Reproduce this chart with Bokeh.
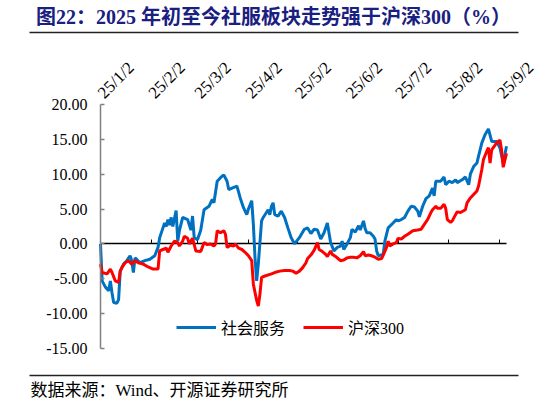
import pandas as pd
from math import pi
from bokeh.plotting import figure
from bokeh.models import Range1d, FixedTicker, NumeralTickFormatter, LinearAxis, Label
from bokeh.embed import file_html
from bokeh.resources import INLINE

TITLE = "图22：2025 年初至今社服板块走势强于沪深300（%）"
SOURCE = "数据来源：Wind、开源证券研究所"
SERIES_NAMES = ["社会服务", "沪深300"]

tick_dates = ["2025-01-02", "2025-02-02", "2025-03-02", "2025-04-02", "2025-05-02",
              "2025-06-02", "2025-07-02", "2025-08-02", "2025-09-02"]
tick_labels = ["25/1/2", "25/2/2", "25/3/2", "25/4/2", "25/5/2",
               "25/6/2", "25/7/2", "25/8/2", "25/9/2"]
y_ticks = [-15, -10, -5, 0, 5, 10, 15, 20]
y_min, y_max = -15, 20
x_start, x_end = "2025-01-02", "2025-09-06"

blue_dates = [
    "2025-01-02", "2025-01-03", "2025-01-05", "2025-01-07", "2025-01-08", "2025-01-09", "2025-01-10",
    "2025-01-12", "2025-01-13", "2025-01-14", "2025-01-16", "2025-01-18", "2025-01-20", "2025-01-21",
    "2025-01-22", "2025-01-23", "2025-01-24", "2025-01-26", "2025-01-29",
    "2025-02-01", "2025-02-04", "2025-02-06", "2025-02-07", "2025-02-09", "2025-02-10", "2025-02-11",
    "2025-02-12", "2025-02-13", "2025-02-14", "2025-02-15", "2025-02-17", "2025-02-18", "2025-02-19",
    "2025-02-21", "2025-02-24", "2025-02-26", "2025-02-27", "2025-02-28",
    "2025-03-02", "2025-03-04", "2025-03-06", "2025-03-09", "2025-03-11", "2025-03-12", "2025-03-14",
    "2025-03-16", "2025-03-18", "2025-03-20", "2025-03-21", "2025-03-23", "2025-03-26", "2025-03-28",
    "2025-03-30",
    "2025-04-01", "2025-04-02", "2025-04-04", "2025-04-05", "2025-04-06", "2025-04-07", "2025-04-08",
    "2025-04-10", "2025-04-11", "2025-04-14", "2025-04-15", "2025-04-16", "2025-04-17", "2025-04-18",
    "2025-04-20", "2025-04-22", "2025-04-24", "2025-04-26", "2025-04-28", "2025-04-30",
    "2025-05-03", "2025-05-06", "2025-05-08", "2025-05-10", "2025-05-12", "2025-05-14", "2025-05-16",
    "2025-05-18", "2025-05-20", "2025-05-22", "2025-05-24", "2025-05-26", "2025-05-28", "2025-05-29",
    "2025-05-30",
    "2025-06-01", "2025-06-03", "2025-06-04", "2025-06-06", "2025-06-08", "2025-06-09", "2025-06-11",
    "2025-06-12", "2025-06-13", "2025-06-15", "2025-06-17", "2025-06-18", "2025-06-19", "2025-06-20",
    "2025-06-23", "2025-06-24", "2025-06-26", "2025-06-29",
    "2025-07-01", "2025-07-02", "2025-07-04", "2025-07-06", "2025-07-08", "2025-07-10", "2025-07-12",
    "2025-07-14", "2025-07-15", "2025-07-17", "2025-07-19", "2025-07-21", "2025-07-23", "2025-07-24",
    "2025-07-25", "2025-07-28", "2025-07-30", "2025-07-31",
    "2025-08-02", "2025-08-04", "2025-08-06", "2025-08-07", "2025-08-10", "2025-08-12", "2025-08-14",
    "2025-08-15", "2025-08-17", "2025-08-19", "2025-08-20", "2025-08-22", "2025-08-24", "2025-08-26",
    "2025-08-28", "2025-08-31",
    "2025-09-02", "2025-09-04", "2025-09-06",
]
blue_values = [
    0.0, -5.3, -6.2, -6.7, -5.3, -7.0, -8.4, -8.5, -8.0, -3.9, -2.9, -2.4, -1.7, -2.4, -4.1, -2.0, -2.2, -2.7, -2.4,
    -2.2, -1.7, -0.5, 0.9, 2.3, 3.0, 2.5, 3.5, 2.7, 3.8, 2.5, 4.8, 0.4, 1.9, 3.8, 3.5, 2.0, 4.0, 0.9,
    0.6, 2.0, 4.9, 5.4, 6.4, 5.9, 9.0, 9.5, 9.9, 9.0, 7.8, 8.0, 8.3, 6.6, 5.2,
    4.2, 5.0, 6.2, 2.8, -2.0, -5.3, -2.9, 3.3, 3.8, 4.9, 4.2, 5.4, 5.9, 4.2, 4.0, 4.7, 3.8, 2.3, 0.9, 0.0,
    0.9, 2.1, 2.3, 1.5, 2.1, 2.0, 0.7, 1.6, 3.0, 0.2, -1.0, -0.5, -0.3, 0.4, -0.8,
    0.0, 0.9, 2.1, 1.7, 2.6, 2.0, 3.3, 2.2, 1.6, 1.6, 1.1, 0.7, -1.0, -1.7, -1.5, 0.4, 2.3, 3.0,
    3.5, 3.3, 3.5, 3.8, 4.7, 5.4, 5.3, 4.7, 3.9, 5.4, 6.5, 6.9, 8.0, 6.9, 9.0, 9.0, 9.6, 8.5,
    9.0, 8.8, 9.2, 8.8, 9.2, 9.6, 8.5, 10.0, 11.1, 11.6, 12.6, 14.5, 15.7, 16.5, 14.7, 14.7,
    13.8, 11.6, 14.0,
]

red_dates = [
    "2025-01-02", "2025-01-03", "2025-01-06", "2025-01-08", "2025-01-09", "2025-01-11", "2025-01-13",
    "2025-01-14", "2025-01-15", "2025-01-17", "2025-01-19", "2025-01-21", "2025-01-23", "2025-01-25",
    "2025-01-28", "2025-01-31",
    "2025-02-03", "2025-02-06", "2025-02-07", "2025-02-09", "2025-02-11", "2025-02-12", "2025-02-14",
    "2025-02-16", "2025-02-18", "2025-02-19", "2025-02-21", "2025-02-22", "2025-02-24", "2025-02-25",
    "2025-02-27",
    "2025-03-01", "2025-03-04", "2025-03-06", "2025-03-08", "2025-03-10", "2025-03-12", "2025-03-13",
    "2025-03-14", "2025-03-16", "2025-03-18", "2025-03-19", "2025-03-20", "2025-03-22", "2025-03-24",
    "2025-03-25", "2025-03-27", "2025-03-29", "2025-03-31",
    "2025-04-02", "2025-04-04", "2025-04-05", "2025-04-07", "2025-04-08", "2025-04-09", "2025-04-10",
    "2025-04-12", "2025-04-16", "2025-04-18", "2025-04-21", "2025-04-24", "2025-04-27", "2025-04-29",
    "2025-05-01", "2025-05-03", "2025-05-05", "2025-05-07", "2025-05-08", "2025-05-10", "2025-05-12",
    "2025-05-14", "2025-05-15", "2025-05-17", "2025-05-19", "2025-05-20", "2025-05-22", "2025-05-23",
    "2025-05-25", "2025-05-27", "2025-05-28", "2025-05-30",
    "2025-06-01", "2025-06-03", "2025-06-05", "2025-06-07", "2025-06-09", "2025-06-11", "2025-06-12",
    "2025-06-14", "2025-06-16", "2025-06-18", "2025-06-20", "2025-06-22", "2025-06-23", "2025-06-25",
    "2025-06-26", "2025-06-27", "2025-06-29",
    "2025-07-01", "2025-07-02", "2025-07-04", "2025-07-06", "2025-07-08", "2025-07-11", "2025-07-14",
    "2025-07-16", "2025-07-18", "2025-07-20", "2025-07-22", "2025-07-23", "2025-07-25", "2025-07-26",
    "2025-07-28", "2025-07-30", "2025-07-31",
    "2025-08-01", "2025-08-03", "2025-08-04", "2025-08-06", "2025-08-07", "2025-08-09", "2025-08-12",
    "2025-08-13", "2025-08-15", "2025-08-17", "2025-08-19", "2025-08-20", "2025-08-21", "2025-08-22",
    "2025-08-23", "2025-08-25", "2025-08-26", "2025-08-27", "2025-08-28", "2025-08-31",
    "2025-09-02", "2025-09-03", "2025-09-04", "2025-09-06",
]
red_values = [
    -2.9, -4.1, -4.3, -3.6, -4.1, -5.3, -5.5, -3.9, -3.4, -2.7, -2.4, -2.9, -2.4, -2.7, -2.9, -3.3,
    -3.6, -3.6, -1.0, -0.8, -0.6, -1.2, -0.3, 0.4, 0.2, -0.3, 0.4, 1.1, 0.8, 0.0, 0.8,
    -1.0, -1.1, 0.2, -0.1, 0.0, -0.3, 0.0, 1.9, 1.6, 1.9, 1.4, -0.5, -0.2, -0.3, 0.0, -0.6, -0.8, -1.2,
    -1.7, -2.4, -5.8, -8.1, -8.9, -7.2, -4.8, -4.6, -4.3, -4.1, -3.9, -3.8, -3.8, -3.9,
    -4.2, -3.9, -3.4, -2.7, -2.1, -1.6, -0.9, 0.2, -0.8, -1.1, -1.5, -1.8, -1.0, -1.5, -1.8, -2.2, -2.4, -2.3,
    -2.0, -1.9, -1.9, -2.0, -1.7, -1.1, -1.7, -1.6, -1.7, -1.9, -2.2, -2.1, -1.6, -0.5, 0.4, -0.3, 0.0,
    0.2, 0.8, 0.7, 1.1, 1.4, 1.9, 2.0, 2.1, 2.8, 3.5, 4.5, 4.9, 5.4, 5.1, 5.1, 5.7, 5.1,
    3.5, 3.1, 3.3, 4.2, 4.6, 4.5, 4.9, 5.9, 6.6, 7.1, 7.6, 8.3, 9.5, 10.7, 12.1, 13.3, 13.8, 11.6, 13.5, 14.5,
    14.9, 13.5, 11.0, 13.0,
]

SERIF = "Liberation Serif, Noto Sans CJK SC"

# ---- canvas geometry (pixels in the 546x405 figure) ----
W, H = 546, 405
PL, PR, PT, PB = 100, 506, 104, 348   # plot-area edges
RULE_L, RULE_R = 29, 518

def ms(d):
    return int(pd.Timestamp(d).value // 10**6)

d0, d1 = ms(x_start), ms(x_end)
mpp = (d1 - d0) / (PR - PL)
upp = (y_max - y_min) / (PB - PT)
date_range = Range1d(d0 - PL * mpp, d1 + (W - PR) * mpp)
val_range = Range1d(y_min - (H - PB) * upp, y_max + PT * upp)

p = figure(width=W, height=H, x_range=Range1d(0, W), y_range=Range1d(H, 0),
           x_axis_type=None, y_axis_type=None, output_backend="svg",
           toolbar_location=None, min_border=0, outline_line_color=None)
p.grid.visible = False
p.extra_x_ranges = {"date": date_range}
p.extra_y_ranges = {"val": val_range}

# title and source texts
p.add_layout(Label(x=273, y=16, x_units="data", y_units="data", text=TITLE,
                   text_font=SERIF, text_font_size="20px", text_font_style="bold",
                   text_color="#1A2080", text_baseline="middle", text_align="center"))
p.add_layout(Label(x=30, y=390, x_units="data", y_units="data", text=SOURCE,
                   text_font=SERIF, text_font_size="17px",
                   text_color="black", text_baseline="middle", text_align="left"))

# horizontal rules under the title and above the source (axis lines without ticks)
for rule_y in (31.5, 375):
    p.add_layout(LinearAxis(fixed_location=rule_y, bounds=(RULE_L, RULE_R),
                            axis_line_color="#222222", axis_line_width=1.5,
                            major_tick_line_color=None, minor_tick_line_color=None,
                            major_label_text_color=None), "below")

tick_ms = [ms(d) for d in tick_dates]

# zero line axis (ticks pointing up)
zero_axis = LinearAxis(x_range_name="date", y_range_name="val", fixed_location=0,
                       bounds=(d0, d1), ticker=FixedTicker(ticks=tick_ms),
                       axis_line_color="black", axis_line_width=1.5,
                       major_tick_in=4, major_tick_out=0, major_tick_line_color="black",
                       minor_tick_line_color=None, major_label_text_color=None,
                       level="underlay")
p.add_layout(zero_axis, "below")

# date labels along the top
top_axis = LinearAxis(x_range_name="date", y_range_name="val", fixed_location=y_max,
                      bounds=(d0, d1), ticker=FixedTicker(ticks=tick_ms),
                      major_label_overrides={t: lab for t, lab in zip(tick_ms, tick_labels)},
                      major_label_orientation=pi / 4, major_label_standoff=3,
                      major_label_text_font=SERIF, major_label_text_font_size="17px",
                      major_label_text_color="black", axis_line_color=None,
                      major_tick_line_color=None, minor_tick_line_color=None)
p.add_layout(top_axis, "above")

# value axis
y_axis = LinearAxis(x_range_name="date", y_range_name="val", fixed_location=d0,
                    bounds=(y_min, y_max), ticker=FixedTicker(ticks=y_ticks),
                    formatter=NumeralTickFormatter(format="0.00"),
                    major_label_text_font=SERIF, major_label_text_font_size="16px",
                    major_label_text_color="black", major_label_standoff=13,
                    axis_line_color="#808080", axis_line_width=1.5,
                    major_tick_in=4, major_tick_out=0, major_tick_line_color="#808080",
                    major_tick_line_width=1.5, minor_tick_line_color=None)
p.add_layout(y_axis, "left")

p.line(pd.to_datetime(blue_dates), blue_values, x_range_name="date", y_range_name="val",
       line_color="#0070C0", line_width=3, legend_label=SERIES_NAMES[0])
p.line(pd.to_datetime(red_dates), red_values, x_range_name="date", y_range_name="val",
       line_color="#FF0000", line_width=3, legend_label=SERIES_NAMES[1])

lg = p.legend[0]
lg.orientation = "horizontal"
lg.location = (176, 66)
lg.padding = 0
lg.margin = 0
lg.spacing = 18
lg.border_line_color = None
lg.background_fill_alpha = 0
lg.glyph_width = 40
lg.glyph_height = 20
lg.label_standoff = 5
lg.label_text_font = SERIF
lg.label_text_font_size = "16px"
lg.label_text_color = "black"

open("out.html", "w").write(file_html(p, INLINE))
